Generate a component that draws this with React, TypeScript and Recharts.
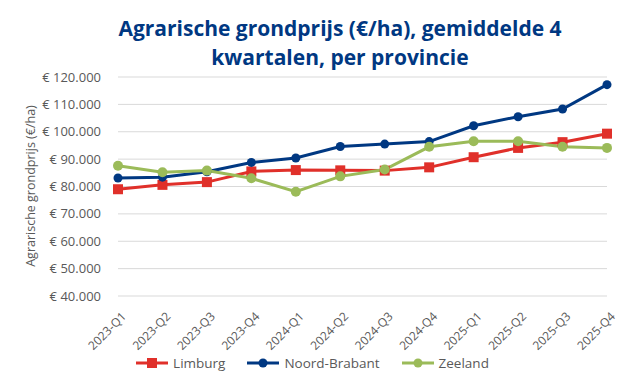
import React from 'react';
import {
  LineChart,
  Line,
  XAxis,
  YAxis,
  CartesianGrid,
  Legend,
} from 'recharts';

const quarters = [
  '2023-Q1', '2023-Q2', '2023-Q3', '2023-Q4',
  '2024-Q1', '2024-Q2', '2024-Q3', '2024-Q4',
  '2025-Q1', '2025-Q2', '2025-Q3', '2025-Q4',
];
const limburg = [79000, 80600, 81600, 85500, 86000, 85900, 85800, 87000, 90700, 94100, 96200, 99300];
const noordBrabant = [83100, 83400, 85400, 88800, 90400, 94600, 95500, 96400, 102200, 105500, 108300, 117200];
const zeeland = [87600, 85200, 85800, 83000, 78100, 83700, 86200, 94500, 96500, 96500, 94500, 94100];
const yTicks = [40000, 50000, 60000, 70000, 80000, 90000, 100000, 110000, 120000];

const data = quarters.map((q, i) => ({
  q,
  limburg: limburg[i],
  noordBrabant: noordBrabant[i],
  zeeland: zeeland[i],
}));

const RED = '#e0302a';
const BLUE = '#003882';
const GREEN = '#9bbb59';
const GREY = '#595959';
const FONT = '"Open Sans", sans-serif';

const euro = (v: number) => '€ ' + String(v).replace(/\B(?=(\d{3})+(?!\d))/g, '.');

const SquareDot = (props: any) => {
  const { cx, cy, key } = props;
  if (cx == null || cy == null) return <g key={key} />;
  return <rect key={key} x={cx - 5} y={cy - 5} width={10} height={10} fill={RED} />;
};

// rotated quarter labels, end of text sits just right of and below the tick
const XTick = (props: any) => {
  const { x, y, payload } = props;
  return (
    <g transform={`translate(${x - 1},${y + 9})`}>
      <text
        x={4}
        y={0}
        dy={10}
        textAnchor="end"
        transform="rotate(-45)"
        fill={GREY}
        fontSize={12}
        fontFamily={FONT}
      >
        {payload.value}
      </text>
    </g>
  );
};

const legendItems = [
  { name: 'Limburg', color: RED, shape: 'square' },
  { name: 'Noord-Brabant', color: BLUE, shape: 'circle' },
  { name: 'Zeeland', color: GREEN, shape: 'circle' },
];

const LegendContent = () => (
  <div style={{ display: 'flex', justifyContent: 'center', gap: 22, fontFamily: FONT, fontSize: 13.5, color: GREY }}>
    {legendItems.map((it) => (
      <div key={it.name} style={{ display: 'flex', alignItems: 'center' }}>
        <svg width={32} height={12} style={{ marginRight: 5 }}>
          <line x1={0} y1={6} x2={32} y2={6} stroke={it.color} strokeWidth={3} />
          {it.shape === 'square' ? (
            <rect x={11} y={1} width={10} height={10} fill={it.color} />
          ) : (
            <circle cx={16} cy={6} r={4.5} fill={it.color} />
          )}
        </svg>
        <span>{it.name}</span>
      </div>
    ))}
  </div>
);

export default function App() {
  return (
    <div style={{ position: 'relative', width: 625, height: 386, background: '#fff', fontFamily: FONT }}>
      <style>{'body{margin:0}'}</style>
      <div
        style={{
          position: 'absolute',
          left: 40,
          width: 600,
          top: 14,
          textAlign: 'center',
          color: BLUE,
          fontWeight: 700,
          fontSize: 21,
          lineHeight: '29px',
        }}
      >
        Agrarische grondprijs (€/ha), gemiddelde 4
        <br />
        kwartalen, per provincie
      </div>
      <div
        style={{
          position: 'absolute',
          left: 30,
          top: 186,
          transform: 'translate(-50%, -50%) rotate(-90deg)',
          whiteSpace: 'nowrap',
          fontSize: 12.5,
          color: GREY,
        }}
      >
        Agrarische grondprijs (€/ha)
      </div>
      <LineChart
        width={625}
        height={386}
        data={data}
        margin={{ top: 77, right: 18, bottom: 0, left: 0 }}
        style={{ position: 'absolute', left: 0, top: 0 }}
      >
        <CartesianGrid vertical={false} stroke="#d9d9d9" />
        <XAxis
          dataKey="q"
          axisLine={false}
          tickLine={false}
          height={90}
          interval={0}
          tick={<XTick />}
        />
        <YAxis
          width={118}
          domain={[40000, 120000]}
          ticks={yTicks}
          axisLine={false}
          tickLine={false}
          tickSize={6}
          tickMargin={11}
          tickFormatter={euro}
          tick={{ fill: GREY, fontSize: 13, fontFamily: FONT }}
        />
        <Legend
          layout="horizontal"
          verticalAlign="middle"
          align="center"
          wrapperStyle={{ top: 354, left: 0, width: 625 }}
          content={<LegendContent />}
        />
        <Line
          type="linear"
          dataKey="limburg"
          stroke={RED}
          strokeWidth={3}
          dot={<SquareDot />}
          isAnimationActive={false}
        />
        <Line
          type="linear"
          dataKey="noordBrabant"
          stroke={BLUE}
          strokeWidth={3}
          dot={{ r: 4.5, fill: BLUE, stroke: BLUE, strokeWidth: 0 }}
          isAnimationActive={false}
        />
        <Line
          type="linear"
          dataKey="zeeland"
          stroke={GREEN}
          strokeWidth={3}
          dot={{ r: 5, fill: GREEN, stroke: GREEN, strokeWidth: 0 }}
          isAnimationActive={false}
        />
      </LineChart>
    </div>
  );
}
